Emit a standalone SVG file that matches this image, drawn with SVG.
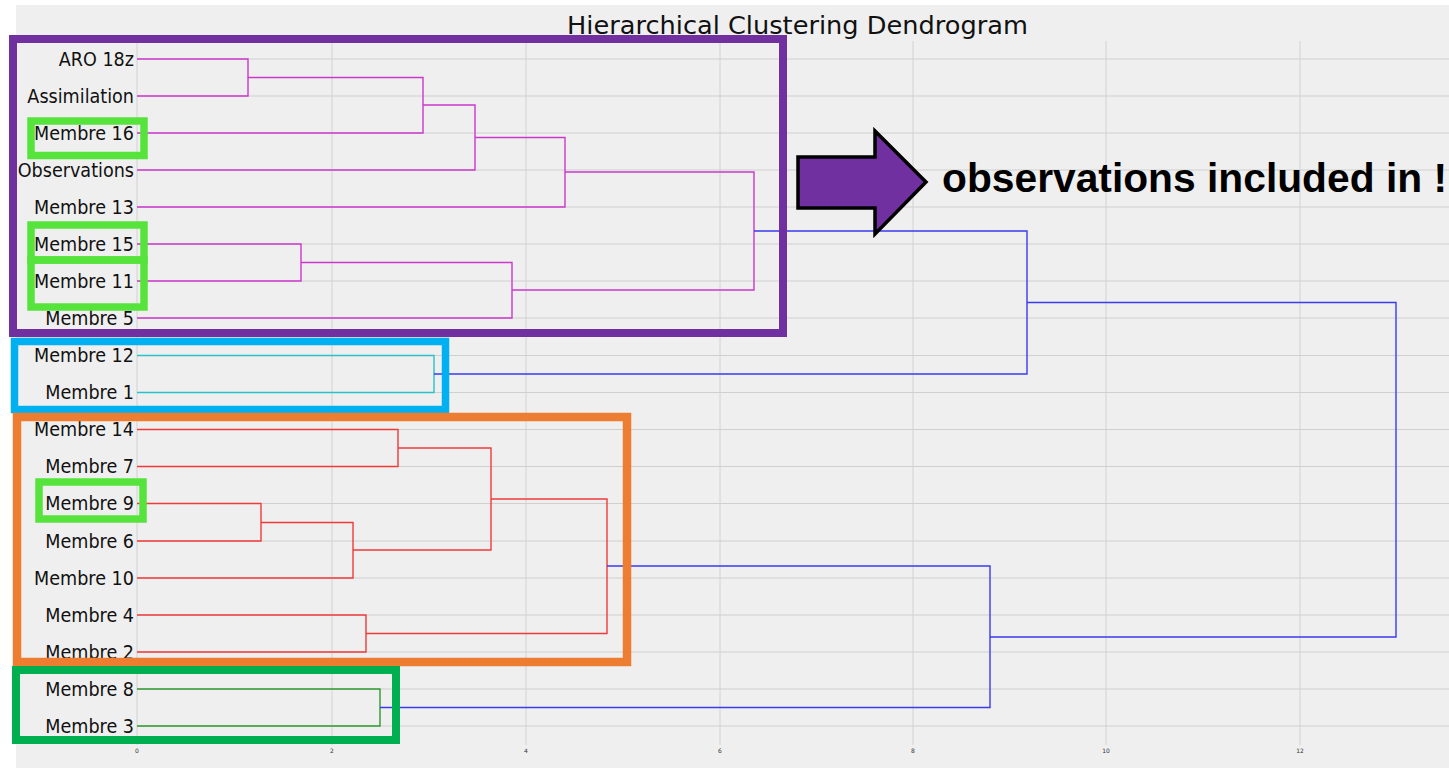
<svg xmlns="http://www.w3.org/2000/svg" width="1449" height="768" viewBox="0 0 1449 768">
<defs>
<style>
.grid{stroke:#cfcfcf;stroke-width:1;fill:none}
.gridv{stroke:#d2d2d2;stroke-width:1;fill:none}
.lbl{font-family:"DejaVu Sans",sans-serif;font-size:20px;fill:#111;text-anchor:end}
.tick{font-family:"DejaVu Sans",sans-serif;font-size:6px;fill:#333;text-anchor:middle}
.ln{fill:none;stroke-width:1.4;stroke-linejoin:miter}
.m{stroke:#cc38cc}
.c{stroke:#2ac2c8}
.r{stroke:#f23a3a}
.g{stroke:#2f9a2f}
.b{stroke:#3a3af2}
.box{fill:none}
.hl{fill:none;stroke:#56e43c;stroke-width:7.5}
</style>
</defs>
<rect x="0" y="0" width="1449" height="768" fill="#ffffff"/>
<rect x="16" y="5" width="1433" height="763" fill="#efefef"/>
<g id="grid">
<path class="gridv" d="M137,41V745M332,41V745M526,41V745M720,41V745M913,41V745M1106,41V745M1300,41V745"/>
<path class="grid" d="M137,59H1449M137,96H1449M137,133H1449M137,170H1449M137,207H1449M137,244H1449M137,281H1449M137,318H1449M137,355.5H1449M137,392.5H1449M137,429.5H1449M137,466.5H1449M137,503.5H1449M137,541H1449M137,578H1449M137,615H1449M137,652H1449M137,689H1449M137,726H1449"/>
<g id="ticks">
<text class="tick" x="137" y="753">0</text>
<text class="tick" x="332" y="753">2</text>
<text class="tick" x="526" y="753">4</text>
<text class="tick" x="720" y="753">6</text>
<text class="tick" x="913" y="753">8</text>
<text class="tick" x="1106" y="753">10</text>
<text class="tick" x="1300" y="753">12</text>
</g>
</g>
<text id="title" x="567" y="34" font-family="DejaVu Sans, sans-serif" font-size="25" fill="#111" textLength="461" lengthAdjust="spacingAndGlyphs">Hierarchical Clustering Dendrogram</text>
<g id="connectors">
<path class="ln m" d="M137,59H248V96H137"/>
<path class="ln m" d="M248,77.5H423V133H137"/>
<path class="ln m" d="M423,105H475V170H137"/>
<path class="ln m" d="M475,137.5H565V207H137"/>
<path class="ln m" d="M137,244H301V281H137"/>
<path class="ln m" d="M301,262.5H512V318H137"/>
<path class="ln m" d="M565,172H754V290H512"/>
<path class="ln c" d="M137,355.5H434V392.5H137"/>
<path class="ln b" d="M754,231H1027V374H434"/>
<path class="ln r" d="M137,429.5H398V466.5H137"/>
<path class="ln r" d="M137,503.5H261V541H137"/>
<path class="ln r" d="M261,522.5H353V578H137"/>
<path class="ln r" d="M398,448H491V550H353"/>
<path class="ln r" d="M137,615H366V652H137"/>
<path class="ln r" d="M491,499H607V633.5H366"/>
<path class="ln g" d="M137,689H380V726H137"/>
<path class="ln b" d="M607,566H990V707.5H380"/>
<path class="ln b" d="M1027,302.5H1396V637H990"/>
</g>
<g transform="translate(134,0) scale(0.88,1)">
<g id="leaf-aro18z"><text class="lbl" x="0" y="66">ARO 18z</text></g>
<g id="leaf-assimilation"><text class="lbl" x="0" y="103">Assimilation</text></g>
<g id="leaf-membre16"><text class="lbl" x="0" y="140">Membre 16</text></g>
<g id="leaf-observations"><text class="lbl" x="0" y="177">Observations</text></g>
<g id="leaf-membre13"><text class="lbl" x="0" y="214">Membre 13</text></g>
<g id="leaf-membre15"><text class="lbl" x="0" y="251">Membre 15</text></g>
<g id="leaf-membre11"><text class="lbl" x="0" y="288">Membre 11</text></g>
<g id="leaf-membre5"><text class="lbl" x="0" y="325">Membre 5</text></g>
<g id="leaf-membre12"><text class="lbl" x="0" y="362.5">Membre 12</text></g>
<g id="leaf-membre1"><text class="lbl" x="0" y="399.5">Membre 1</text></g>
<g id="leaf-membre14"><text class="lbl" x="0" y="436.5">Membre 14</text></g>
<g id="leaf-membre7"><text class="lbl" x="0" y="473.5">Membre 7</text></g>
<g id="leaf-membre9"><text class="lbl" x="0" y="510.5">Membre 9</text></g>
<g id="leaf-membre6"><text class="lbl" x="0" y="548">Membre 6</text></g>
<g id="leaf-membre10"><text class="lbl" x="0" y="585">Membre 10</text></g>
<g id="leaf-membre4"><text class="lbl" x="0" y="622">Membre 4</text></g>
<g id="leaf-membre2"><text class="lbl" x="0" y="659">Membre 2</text></g>
<g id="leaf-membre8"><text class="lbl" x="0" y="696">Membre 8</text></g>
<g id="leaf-membre3"><text class="lbl" x="0" y="733">Membre 3</text></g>
</g>
<g id="cluster-purple"><rect class="box" x="13" y="39" width="770" height="294" stroke="#7030a0" stroke-width="8"/></g>
<g id="cluster-cyan"><rect class="box" x="14.5" y="341.5" width="431" height="68" stroke="#00b0f0" stroke-width="7.5"/></g>
<g id="cluster-orange"><rect class="box" x="17" y="417" width="610" height="245" stroke="#ed7d31" stroke-width="8.5"/></g>
<g id="cluster-green"><rect class="box" x="16" y="670" width="380" height="70" stroke="#00b050" stroke-width="8"/></g>
<g id="highlight-membre16"><rect class="hl" x="31" y="121" width="113" height="34.5"/></g>
<g id="highlight-membre15"><rect class="hl" x="31" y="225" width="113" height="35"/></g>
<g id="highlight-membre11"><rect class="hl" x="31" y="260" width="113" height="47"/></g>
<g id="highlight-membre9"><rect class="hl" x="39" y="482" width="104" height="37"/></g>
<g id="arrow"><polygon points="798,157 875,157 875,131 926,182 875,234 875,208 798,208" fill="#7030a0" stroke="#000" stroke-width="3.5" stroke-linejoin="miter"/></g>
<g id="annotation"><text x="942" y="192" font-family="Liberation Sans, Arial, sans-serif" font-weight="bold" font-size="40" fill="#000" textLength="505" lengthAdjust="spacingAndGlyphs">observations included in !</text></g>
</svg>
